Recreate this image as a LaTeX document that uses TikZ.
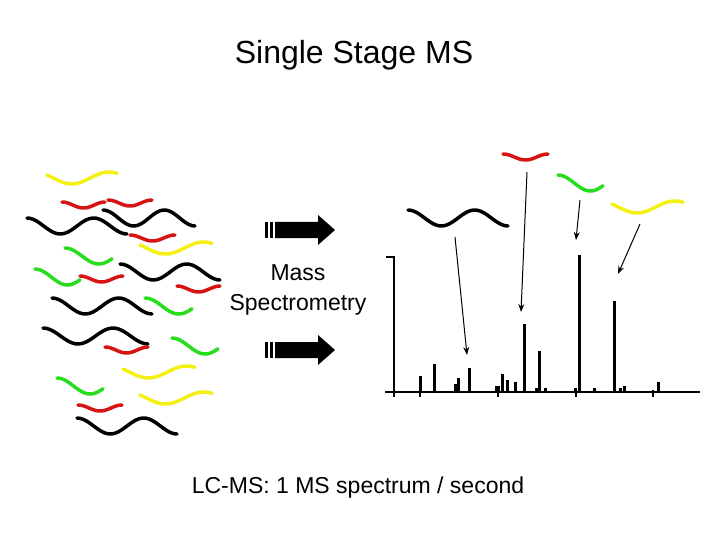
\documentclass[tikz,border=0pt]{standalone}
\usepackage{fontspec}
\setmainfont{Liberation Sans}
\usetikzlibrary{arrows.meta}
\newcommand{\sq}[7]{\draw[#1,line width=3.5pt,line cap=round] plot[domain=0:1,smooth,samples=30,variable=\t] ({#2+(#3-#2)*\t},{#4-#5*cos(#6+(#7-#6)*\t)});}
\definecolor{myy}{RGB}{245,240,20}
\definecolor{myr}{RGB}{215,20,20}
\definecolor{myg}{RGB}{40,220,30}
\tikzset{ptr/.style={-{Stealth[length=8pt,width=6pt]},line width=1pt},
peak/.style={line width=3pt},
txt/.style={font=\fontsize{23}{30}\selectfont,align=center}}
\begin{document}
\begin{tikzpicture}[x=1pt,y=-1pt]
\useasboundingbox (0,0) rectangle (720,540);
\node[font=\fontsize{32}{36}\selectfont] (title) at (354,55) {Single Stage MS};
% left mixture
\sq{myy}{47}{117}{178}{6}{60}{400}
\sq{myr}{62}{105}{205}{3}{0}{360}
\sq{myr}{108}{152}{203}{3}{0}{360}
\sq{black}{27}{127}{226}{8}{0}{540}
\sq{black}{103}{195}{218}{8}{0}{540}
\sq{myr}{130}{175}{238}{3}{0}{360}
\sq{myy}{140}{212}{248}{6}{60}{400}
\sq{myg}{65}{112}{256}{8}{0}{250}
\sq{black}{120}{220}{272}{8}{0}{540}
\sq{myg}{35}{80}{277}{8}{0}{250}
\sq{myr}{80}{123}{279}{3}{0}{360}
\sq{myr}{177}{220}{289}{3}{0}{360}
\sq{myg}{145}{192}{306}{8}{0}{250}
\sq{black}{52}{152}{306}{8}{0}{540}
\sq{black}{43}{148}{336}{8}{0}{540}
\sq{myr}{105}{148}{350}{3}{0}{360}
\sq{myg}{172}{218}{346}{8}{0}{250}
\sq{myy}{123}{195}{372}{6}{60}{400}
\sq{myg}{57}{103}{386}{8}{0}{250}
\sq{myy}{140}{212}{398}{6}{60}{400}
\sq{myr}{78}{122}{408}{3}{0}{360}
\sq{black}{77}{177}{426}{8}{0}{540}
% big arrows
\foreach \yy in {230,350}{
  \fill (265,\yy-8) rectangle (268,\yy+8);
  \fill (270,\yy-8) rectangle (273,\yy+8);
  \fill (275,\yy-8) -- (318,\yy-8) -- (318,\yy-15) -- (335,\yy) -- (318,\yy+15) -- (318,\yy+8) -- (275,\yy+8) -- cycle;
}
\node[txt] (mass) at (298,290) {Mass\\Spectrometry};
% right separated
\sq{black}{408}{508}{218}{8}{0}{540}
\sq{myr}{503}{548}{157}{3}{0}{360}
\sq{myg}{558}{603}{183}{8}{0}{250}
\sq{myy}{612}{683}{207}{6}{60}{400}
% spectrum axes
\draw[line width=2pt] (386,257) -- (394,257) -- (394,393);
\draw[line width=2pt] (385,392) -- (700,392);
\foreach \x/\h in {420/376,434/364,458/378,469/368,502/374,507/380,524/324,539/351,579/255,614/301,658/382,594/388,624/386,545/388,515/382,498/386,455/384,496/386,575/388,620/388,536/388}
  \draw[peak] (\x,392) -- (\x,\h);
\foreach \x in {394,420,498,576,653} \draw[line width=1.5pt] (\x,390) -- (\x,397);
\coordinate (a1) at (455,237); \coordinate (b1) at (467,355);
\coordinate (a2) at (527,172); \coordinate (b2) at (521,312);
\coordinate (a3) at (580,200); \coordinate (b3) at (576,240);
\coordinate (a4) at (640,224); \coordinate (b4) at (618,274);
\foreach \i in {1,2,3,4} \draw[ptr] (a\i) -- (b\i);
\node[txt] (cap) at (358,488) {LC-MS: 1 MS spectrum / second};
\end{tikzpicture}
\end{document}
